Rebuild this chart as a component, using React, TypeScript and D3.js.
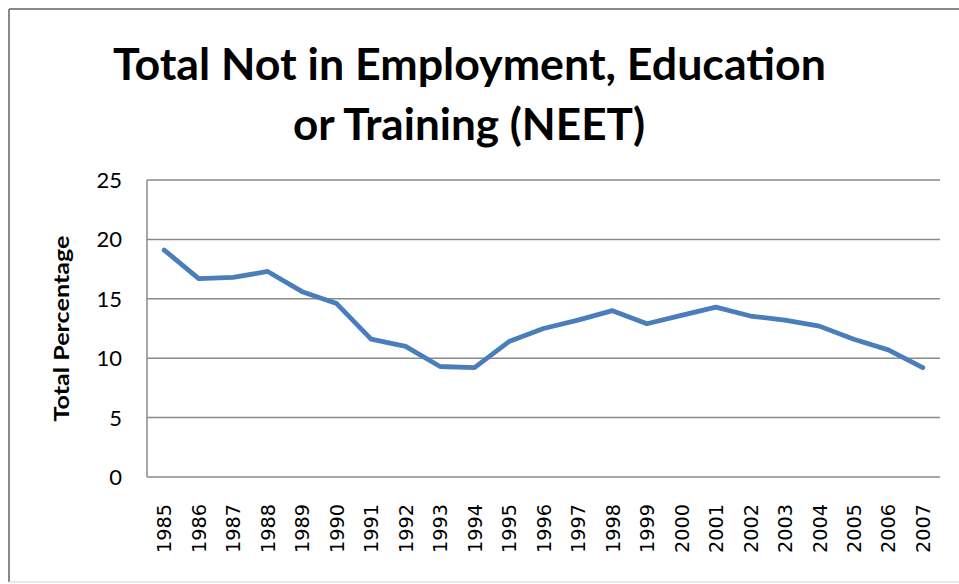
import React from "react";
import * as d3 from "d3";

const years = ["1985","1986","1987","1988","1989","1990","1991","1992","1993","1994","1995","1996","1997","1998","1999","2000","2001","2002","2003","2004","2005","2006","2007"];
const neet = [19.1,16.7,16.8,17.3,15.6,14.6,11.6,11.0,9.3,9.2,11.4,12.5,13.2,14.0,12.9,13.6,14.3,13.55,13.2,12.7,11.6,10.7,9.2];
const yTicks = [0,5,10,15,20,25];
const titleLines = ["Total Not in Employment, Education", "or Training (NEET)"];
const yLabel = "Total Percentage";

export default function App() {
  const W = 959, H = 584;
  const left = 147, right = 940, top = 180, bottom = 477;
  const x = d3.scaleBand<string>().domain(years).range([left, right]);
  const y = d3.scaleLinear().domain([0, 25]).range([bottom, top]);
  const line = d3.line<number>()
    .x((_, i) => (x(years[i]) as number) + x.bandwidth() / 2)
    .y((d) => y(d));
  const grid = "#8a8a8a";
  return (
    <svg width={W} height={H} style={{ position: "absolute", left: 0, top: 0, background: "#fff" }}>
      <rect x={0} y={0} width={W} height={H} fill="#fff" />
      <line x1={9} y1={9} x2={W} y2={9} stroke="#888" strokeWidth={2} />
      <line x1={9} y1={9} x2={9} y2={582} stroke="#888" strokeWidth={2} />
      <line x1={9} y1={582} x2={W} y2={582} stroke="#e0e0e0" strokeWidth={1.5} />
      <g fontFamily="Lato, 'Open Sans', sans-serif" fontWeight="bold" fill="#000" textAnchor="middle">
        <text x={469.5} y={80} fontSize={44} textLength={713} lengthAdjust="spacingAndGlyphs">{titleLines[0]}</text>
        <text x={469} y={140} fontSize={44} textLength={352} lengthAdjust="spacingAndGlyphs">{titleLines[1]}</text>
      </g>
      {yTicks.map((t) => (
        <g key={t}>
          <line x1={left} x2={right} y1={y(t)} y2={y(t)} stroke={grid} strokeWidth={1.5} />
          <text x={122} y={y(t)} dy="0.36em" textAnchor="end" fontSize={22} fontFamily="Lato, 'Open Sans', sans-serif" fill="#000">{t}</text>
        </g>
      ))}
      <line x1={left} x2={left} y1={top} y2={bottom} stroke={grid} strokeWidth={1.5} />
      {years.map((yr) => {
        const cx = (x(yr) as number) + x.bandwidth() / 2;
        return (
          <text key={yr} x={0} y={0} transform={`translate(${cx},553) rotate(-90)`} textAnchor="start" dy="0.36em" fontSize={20} fontFamily="'DejaVu Sans', sans-serif" textLength={49} lengthAdjust="spacingAndGlyphs" fill="#000">{yr}</text>
        );
      })}
      <text transform={`translate(62,${(top + bottom) / 2}) rotate(-90)`} textAnchor="middle" dy="0.35em" fontSize={20} fontWeight="bold" fontFamily="Lato, 'Open Sans', sans-serif" textLength={186} lengthAdjust="spacingAndGlyphs" fill="#000">{yLabel}</text>
      <path d={line(neet) || ""} fill="none" stroke="#4a7ebb" strokeWidth={4.8} strokeLinejoin="round" strokeLinecap="round" />
    </svg>
  );
}
